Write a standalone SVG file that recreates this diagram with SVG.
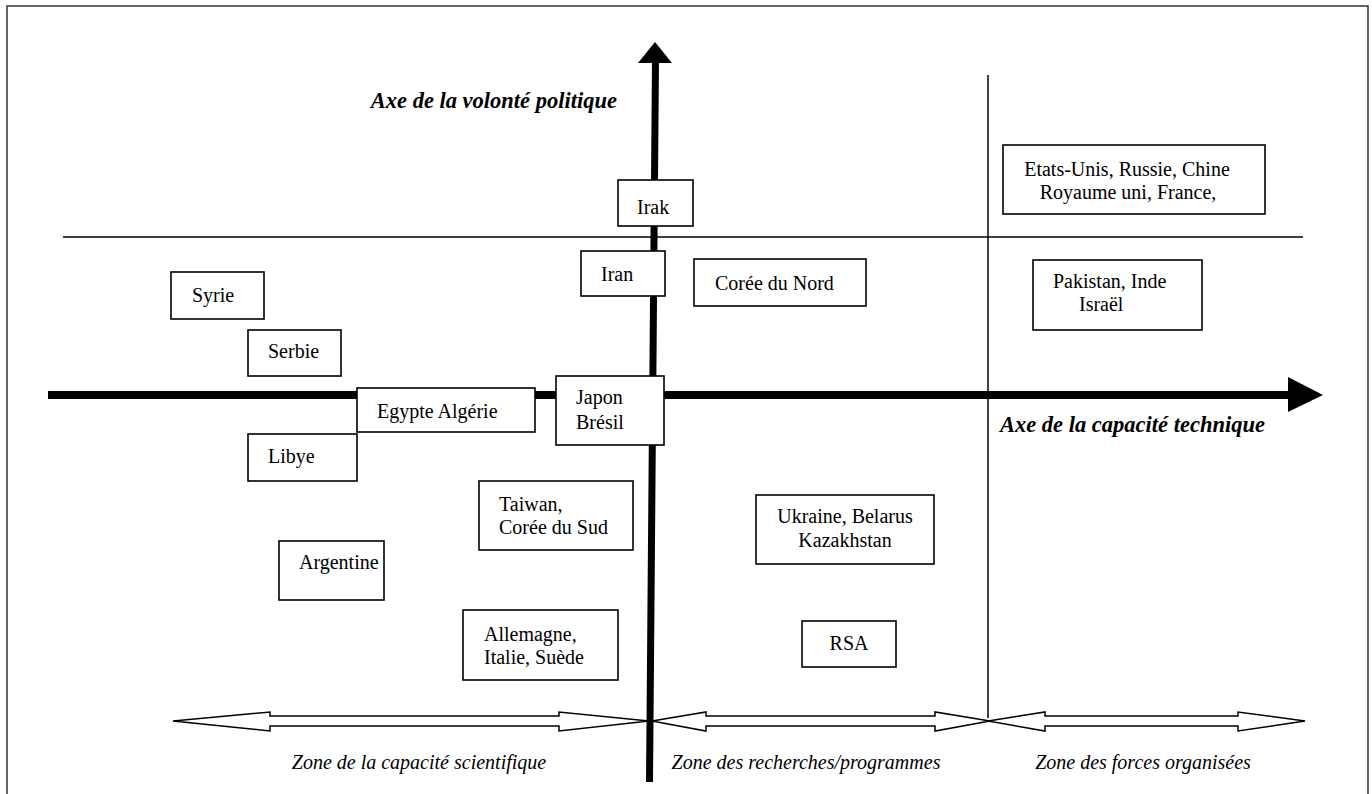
<svg xmlns="http://www.w3.org/2000/svg" width="1372" height="794" viewBox="0 0 1372 794">
<style>
text{font-family:'Liberation Serif','Times New Roman',Tinos,'DejaVu Serif',serif;fill:#000}
.box{fill:#fff;stroke:#000;stroke-width:1.6}
.t{font-size:20px}
.ax{font-size:22.5px;font-weight:bold;font-style:italic}
.z{font-size:20px;font-style:italic}
.thin{stroke:#000;stroke-width:1.5;fill:none}
.dbl{fill:#fff;stroke:#000;stroke-width:1.5}
</style>
<rect width="1372" height="794" fill="#fff"/>
<rect x="7" y="6" width="1361" height="800" fill="none" stroke="#333" stroke-width="1.5"/>
<g id="connectors">
  <line class="thin" x1="63" y1="237" x2="1303" y2="237"/>
  <line class="thin" x1="988" y1="75" x2="988" y2="718"/>
  <line x1="48" y1="395" x2="1290" y2="395" stroke="#000" stroke-width="8"/>
  <polygon points="1288,377 1323,395 1288,412" fill="#000"/>
  <line x1="655.5" y1="60" x2="649.5" y2="782" stroke="#000" stroke-width="7"/>
  <polygon points="638,63 655,42 672,63" fill="#000"/>
  <polygon class="dbl" points="173,721 270,712 270,716 559,716 559,712 649,721 559,731 559,726 270,726 270,731"/>
  <polygon class="dbl" points="652,721 706,712 706,716 935,716 935,712 990,721 935,731 935,726 706,726 706,731"/>
  <polygon class="dbl" points="988,721 1045,712 1045,716 1238,716 1238,712 1305,721 1238,731 1238,726 1045,726 1045,731"/>
</g>
<text class="ax" x="617" y="108" text-anchor="end">Axe de la volonté politique</text>
<text class="ax" x="1000" y="432">Axe de la capacité technique</text>
<text class="z" x="419" y="769" text-anchor="middle">Zone de la capacité scientifique</text>
<text class="z" x="806" y="769" text-anchor="middle">Zone des recherches/programmes</text>
<text class="z" x="1143" y="769" text-anchor="middle">Zone des forces organisées</text>
<g id="irak"><rect class="box" x="618" y="180" width="75" height="46"/><text class="t" x="637" y="214">Irak</text></g>
<g id="iran"><rect class="box" x="581" y="251" width="84" height="45"/><text class="t" x="601" y="281">Iran</text></g>
<g id="japon"><rect class="box" x="556" y="376" width="108" height="69"/><text class="t" x="576" y="404">Japon</text><text class="t" x="576" y="429">Brésil</text></g>
<g id="coree-nord"><rect class="box" x="694" y="259" width="172" height="47"/><text class="t" x="715" y="290">Corée du Nord</text></g>
<g id="etats-unis"><rect class="box" x="1003" y="145" width="262" height="69"/><text class="t" x="1127" y="176" text-anchor="middle">Etats-Unis, Russie, Chine</text><text class="t" x="1128" y="199" text-anchor="middle">Royaume uni, France,</text></g>
<g id="pakistan"><rect class="box" x="1033" y="260" width="169" height="70"/><text class="t" x="1053" y="288">Pakistan, Inde</text><text class="t" x="1079" y="311">Israël</text></g>
<g id="syrie"><rect class="box" x="171" y="272" width="93" height="47"/><text class="t" x="192" y="302">Syrie</text></g>
<g id="serbie"><rect class="box" x="248" y="330" width="93" height="46"/><text class="t" x="268" y="358">Serbie</text></g>
<g id="egypte"><rect class="box" x="357" y="388" width="178" height="44"/><text class="t" x="377" y="418">Egypte Algérie</text></g>
<g id="libye"><rect class="box" x="248" y="434" width="109" height="47"/><text class="t" x="268" y="463">Libye</text></g>
<g id="taiwan"><rect class="box" x="479" y="481" width="154" height="69"/><text class="t" x="499" y="511">Taiwan,</text><text class="t" x="499" y="534">Corée du Sud</text></g>
<g id="argentine"><rect class="box" x="279" y="541" width="105" height="59"/><text class="t" x="299" y="569">Argentine</text></g>
<g id="allemagne"><rect class="box" x="463" y="610" width="155" height="70"/><text class="t" x="484" y="641">Allemagne,</text><text class="t" x="484" y="664">Italie, Suède</text></g>
<g id="ukraine"><rect class="box" x="756" y="495" width="178" height="69"/><text class="t" x="845" y="523" text-anchor="middle">Ukraine, Belarus</text><text class="t" x="845" y="547" text-anchor="middle">Kazakhstan</text></g>
<g id="rsa"><rect class="box" x="802" y="621" width="94" height="46"/><text class="t" x="849" y="650" text-anchor="middle">RSA</text></g>
</svg>
